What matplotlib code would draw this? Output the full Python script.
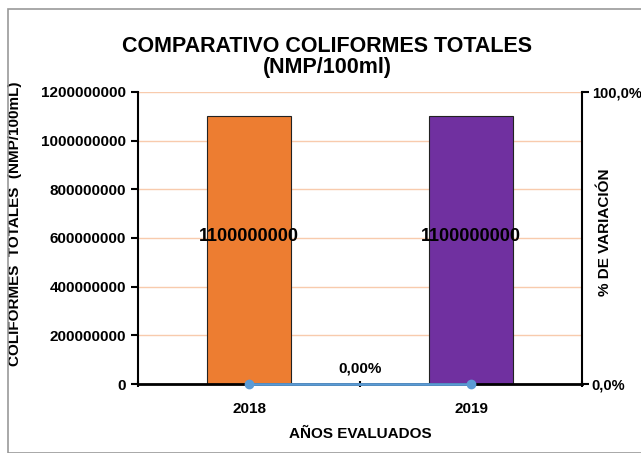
import numpy as np
import matplotlib.pyplot as plt
from matplotlib.patches import Rectangle
from matplotlib.ticker import FuncFormatter

plt.rcParams['font.family'] = ['Liberation Sans', 'DejaVu Sans']
plt.rcParams['font.weight'] = 'bold'

years = ['2018', '2019']
coliformes = [1100000000, 1100000000]
variacion = [0.0, 0.0]
bar_colors = ['#ED7D31', '#7030A0']

fig = plt.figure(figsize=(6.41, 4.53), dpi=100)
fig.patches.append(Rectangle((0.012, 0.0), 0.99, 0.98, transform=fig.transFigure,
                             fill=False, edgecolor='#999999', linewidth=1.2))

ax = fig.add_axes([0.2153, 0.1523, 0.6927, 0.6447])
x = np.arange(len(years))
bars = ax.bar(x, coliformes, width=0.38, color=bar_colors, edgecolor='#222222', linewidth=0.8, zorder=3)
for b, v in zip(bars, coliformes):
    ax.annotate(str(v), (b.get_x() + b.get_width() / 2, v / 2), xytext=(0, 10),
                textcoords='offset points', ha='center', va='center',
                fontsize=13, fontweight='bold', zorder=5)

ax.set_xlim(-0.5, 1.5)
ax.set_ylim(0, 1200000000)
ax.set_yticks(np.arange(0, 1200000001, 200000000))
ax.yaxis.set_major_formatter(FuncFormatter(lambda v, p: '%d' % v))
ax.grid(axis='y', color='#F8CBAD', linewidth=1, zorder=0)
ax.set_xticks(x)
ax.set_xticklabels(years)
ax.set_xticks([-0.5, 0.5, 1.5], minor=True)
ax.tick_params(axis='x', which='major', length=0, labelsize=11, pad=13)
ax.tick_params(axis='x', which='minor', length=5, width=1.5, direction='inout')
ax.tick_params(axis='y', labelsize=11, length=5, width=1.5)
ax.spines['top'].set_visible(False)
ax.spines['right'].set_visible(False)
ax.spines['left'].set_linewidth(1.5)
ax.spines['bottom'].set_linewidth(2)
ax.spines['bottom'].set_zorder(4)
ax.set_xlabel('AÑOS EVALUADOS', fontsize=11, fontweight='bold', labelpad=8)
ax.set_ylabel('COLIFORMES  TOTALES  (NMP/100mL)', fontsize=11, fontweight='bold')
ax.yaxis.set_label_coords(-0.262, 0.55)

ax2 = ax.twinx()
ax2.plot(x, variacion, color='#5B9BD5', linewidth=2, marker='o', markersize=6, zorder=6, clip_on=False)
ax2.text(0.5, 0.03, '0,00%', ha='center', va='bottom', fontsize=11, fontweight='bold')
ax2.set_ylim(0, 1.0)
ax2.set_yticks([0, 1.0])
ax2.yaxis.set_major_formatter(FuncFormatter(lambda v, p: ('%.1f%%' % (v * 100)).replace('.', ',')))
ax2.tick_params(axis='y', labelsize=10.5, length=5, width=1.5, pad=2)
ax2.spines['right'].set_linewidth(1.5)
for s in ['top', 'left', 'bottom']:
    ax2.spines[s].set_visible(False)
ax2.set_ylabel('% DE VARIACIÓN', fontsize=11, fontweight='bold')
ax2.yaxis.set_label_coords(1.035, 0.52)

fig.text(0.51, 0.874, 'COMPARATIVO COLIFORMES TOTALES\n(NMP/100ml)', ha='center', va='center',
         fontsize=15.5, fontweight='bold', linespacing=1.05)

fig.savefig('out.png', dpi=100)
